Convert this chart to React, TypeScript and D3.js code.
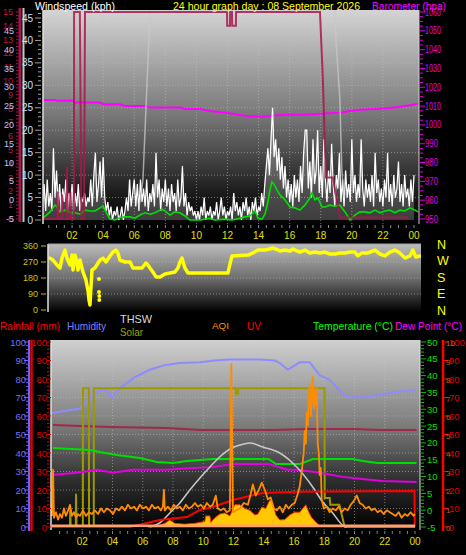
import React from 'react';
import * as d3 from 'd3';

// ---------- labels / ticks ----------
const hourTickValues = [2, 4, 6, 8, 10, 12, 14, 16, 18, 20, 22, 24];
const hourTickLabels = ['02', '04', '06', '08', '10', '12', '14', '16', '18', '20', '22', '00'];
const windTicks = [0, 5, 10, 15, 20, 25, 30, 35, 40, 45];
const crimsonTicks = [0, 1, 2, 3, 4, 5, 6, 7, 8, 9, 10, 11, 12, 13, 14, 15];
const feelTicks = [-5, 0, 5, 10, 15, 20, 25, 30, 35, 40, 45];
const baroTicks = [950, 960, 970, 980, 990, 1000, 1010, 1020, 1030, 1040, 1050, 1060];
const dirTicks = [0, 90, 180, 270, 360];
const compassLabels = ['N', 'W', 'S', 'E', 'N'];
const humTicks = [0, 10, 20, 30, 40, 50, 60, 70, 80, 90, 100];
const tempTicks = [-5, 0, 5, 10, 15, 20, 25, 30, 35, 40, 45, 50];
const uvIndexTicks = [0, 1, 2, 3, 4, 5, 6, 7, 8, 9, 10];

// ---------- top panel data ----------
const gustStartHour = 0.1;
const gustStepHour = 0.1;
const gustValues = [
  4, 8, 2, 9, 3, 6, 2, 16, 5, 11,
  3, 8, 2, 7, 4, 9, 2, 6, 3, 8,
  2, 6, 3, 8, 2, 5, 4, 6, 3, 5,
  4, 9, 3, 10, 15, 4, 8, 13, 5, 14,
  5, 2, 4, 1, 3, 0, 2, 1, 3, 0,
  1, 3, 0, 2, 5, 2, 9, 3, 6, 9,
  3, 8, 2, 9, 4, 7, 3, 9, 2, 6,
  4, 8, 3, 15, 5, 9, 2, 7, 4, 9,
  3, 7, 2, 8, 4, 6, 2, 9, 3, 5,
  12, 3, 6, 1, 4, 2, 3, 1, 2, 0,
  2, 0, 3, 1, 5, 0, 2, 1, 3, 0,
  2, 1, 4, 0, 2, 5, 1, 3, 0, 2,
  1, 3, 0, 6, 2, 4, 1, 3, 0, 4,
  2, 5, 1, 3, 0, 4, 2, 5, 1, 3,
  2, 6, 3, 8, 12, 16, 10, 18, 25, 14,
  18, 11, 16, 9, 14, 7, 12, 5, 9, 4,
  8, 3, 10, 5, 9, 4, 12, 6, 15, 20,
  20, 7, 13, 5, 18, 8, 11, 20, 6, 12,
  5, 18, 9, 4, 11, 6, 17, 8, 3, 10,
  7, 15, 4, 9, 3, 11, 5, 8, 4, 18,
  6, 10, 4, 8, 5, 18, 7, 3, 9, 5,
  8, 4, 10, 3, 15, 6, 9, 4, 7, 3,
  9, 5, 15, 4, 8, 3, 10, 5, 7, 13,
  4, 8, 3, 10, 5, 7, 3, 9, 4, 10,
];

const windAvg: [number, number][] = [
  [0.13, 0.4], [0.58, 1.8], [0.9, 3.3], [1.03, 2.9], [1.22, 1.8], [1.54, 2.2], [1.87, 1.6],
  [2.19, 1.6], [2.51, 1.3], [2.83, 2.2], [3.15, 2], [3.47, 2], [3.8, 2.7], [3.99, 3.1],
  [4.25, 1.3], [4.44, 0.2], [4.76, 0], [5.08, 0.5], [5.4, 0.7], [5.73, 0.7], [6.05, 0.4],
  [6.37, 1.1], [6.69, 1.6], [7.01, 1.3], [7.33, 1.6], [7.66, 2.2], [7.78, 2.4], [7.98, 2],
  [8.3, 1.1], [8.62, 1.8], [8.94, 1.6], [9.26, 0.9], [9.58, 0], [10.23, 0], [10.87, 0.4],
  [11.19, 0], [11.84, 0.2], [12.29, 0], [12.8, 0.4], [13.12, 0.7], [13.44, 0.9], [13.77, 2],
  [13.96, 0.4], [14.22, 0.2], [14.41, 1.3], [14.6, 4], [14.73, 6.7], [14.86, 8.5], [14.99, 8],
  [15.18, 6.7], [15.37, 5.6], [15.7, 4.5], [16.02, 2.9], [16.34, 2.7], [16.66, 2.2], [16.98, 3.3],
  [17.3, 4.9], [17.43, 6], [17.63, 4.5], [17.82, 4.9], [18.08, 2.9], [18.27, 2.9], [18.59, 3.3],
  [18.91, 3.1], [19.23, 3.3], [19.56, 1.8], [19.88, 0], [20.2, 1.1], [20.52, 1.8], [20.84, 1.8],
  [21.16, 1.6], [21.49, 2.2], [21.81, 1.6], [22.13, 2], [22.45, 2.2], [22.77, 1.6], [23.09, 2.2],
  [23.42, 2], [23.74, 2.7], [24.06, 2.2], [24.25, 1.8],
];

const barometer: [number, number][] = [
  [0.13, 1013.3], [0.9, 1013.3], [1.03, 1012.8], [2.06, 1012.8], [2.19, 1011.9], [3.8, 1011.9],
  [3.99, 1011], [5.08, 1011], [5.4, 1010.1], [6.69, 1010.1], [7.01, 1009.2], [8.94, 1009.2],
  [9.26, 1008.5], [10.23, 1008.5], [10.87, 1007.4], [12.16, 1006.2], [13.12, 1004.9],
  [14.22, 1004.3], [14.73, 1004.9], [16.02, 1005.5], [16.66, 1005.3], [17.95, 1005.9],
  [18.59, 1006.2], [19.23, 1006.5], [19.88, 1007.4], [20.52, 1008], [21.49, 1008.5],
  [22.45, 1009], [23.09, 1009.6], [23.74, 1010.4], [24.25, 1011.2],
];

const crimsonSeries: [number, number][] = [
  [0.1, 0], [1.05, 0], [1.08, 2], [1.11, 0], [1.33, 0], [1.36, 1.8], [1.39, 0], [1.65, 0],
  [1.68, 3.8], [1.71, 0], [1.86, 0], [1.89, 2], [1.92, 0], [2.12, 0], [2.13, 15], [2.5, 15],
  [2.6, 0], [2.77, 0], [2.83, 15], [11.97, 15], [11.98, 14], [12.16, 14], [12.17, 15],
  [12.29, 15], [12.3, 14], [12.54, 14], [12.55, 15], [17.95, 15], [18.14, 10], [18.33, 3],
  [18.78, 3], [19.23, 0.1], [23.6, 0.1],
];

const greySeries: [number, number][] = [
  [6.3, 3], [6.45, 6], [6.56, 9], [7.0, 45], [7.1, 52], [18.9, 52], [18.98, 40], [19.23, 27],
  [19.3, 18], [19.36, 11], [19.5, 5],
];

// ---------- wind direction ----------
const windDir: [number, number][] = [
  [0.58, 292], [0.77, 281], [1.03, 253], [1.22, 236], [1.35, 292], [1.54, 337], [1.67, 292],
  [1.87, 253], [2.0, 309], [2.06, 225], [2.19, 309], [2.32, 270], [2.38, 225], [2.51, 281],
  [2.7, 214], [2.89, 169], [3.02, 112], [3.09, 56], [3.15, 28], [3.28, 225], [3.47, 236],
  [3.8, 281], [3.99, 292], [4.18, 270], [4.44, 304], [4.63, 326], [4.82, 337], [4.95, 321],
  [5.08, 281], [5.4, 270], [5.73, 270], [5.92, 236], [6.18, 236], [6.5, 236], [6.75, 264],
  [6.88, 253], [7.01, 236], [7.2, 214], [7.4, 186], [7.66, 186], [7.98, 203], [8.3, 208],
  [8.62, 214], [8.81, 236], [8.94, 270], [9.07, 292], [9.26, 236], [9.46, 208], [12.03, 208],
  [12.16, 259], [12.29, 304], [13.32, 309], [13.64, 321], [13.96, 337], [14.41, 337],
  [14.92, 349], [15.37, 332], [15.7, 337], [16.02, 332], [16.21, 343], [16.66, 326],
  [16.98, 337], [17.3, 321], [17.63, 326], [17.95, 321], [18.27, 326], [18.59, 315],
  [18.91, 315], [19.23, 321], [19.56, 321], [19.88, 326], [20.2, 326], [20.39, 304],
  [20.65, 321], [21.04, 321], [21.49, 337], [21.81, 315], [22.13, 304], [22.45, 326],
  [22.77, 337], [23.09, 321], [23.42, 292], [23.74, 304], [23.93, 337], [24.12, 298], [24.38, 304],
];
const windDirDots: [number, number][] = [[3.73, 174], [3.73, 101], [3.75, 79], [3.75, 56]];

// ---------- bottom panel data ----------
const humidity: [number, number][] = [
  [0, 61.6], [1.85, 64], [2.38, 68.6], [3.17, 74], [3.63, 74], [3.96, 70], [4.49, 75],
  [5.48, 81], [6.47, 85], [7.46, 87.5], [8.45, 88.6], [9.78, 89], [10.77, 90], [11.76, 90.5],
  [13.74, 90.5], [14.73, 90], [15.06, 88.6], [15.59, 85], [16.38, 89], [17.04, 89], [17.7, 82],
  [18.36, 79.5], [19.35, 71], [20.34, 70], [21.33, 71], [22.33, 72.4], [23.32, 73.5], [24, 74],
];
const temperature: [number, number][] = [
  [0.07, 18.5], [2.51, 17.9], [3.17, 17.3], [4.29, 16.4], [5.81, 15.5], [6.93, 14.3],
  [7.99, 14], [8.92, 14.6], [10.63, 15.2], [14.33, 15.2], [14.8, 13.7], [16.38, 13.7],
  [17.24, 15.2], [19.88, 15.2], [20.54, 14.6], [21.53, 14], [24.1, 14],
];
const dewPoint: [number, number][] = [
  [0.07, 10.5], [1.65, 11.1], [2.97, 12], [4.03, 11.1], [5.35, 12], [7.6, 12], [8.92, 12.5],
  [10.63, 12.8], [11.95, 13.7], [14.33, 13.7], [15.59, 12], [16.18, 12], [17.5, 11.3],
  [19.22, 9.9], [20.54, 9.3], [21.86, 8.7], [24.1, 8.4],
];
const maroonSeries: [number, number][] = [
  [0.07, 55.1], [1.85, 54.6], [3.83, 54.1], [7.6, 53.5], [9.78, 52.4], [14.6, 52.4],
  [16.84, 53], [19.88, 53], [21.66, 52.4], [24.1, 52.4],
];
const thswCurve: [number, number][] = [
  [6.47, 0], [7.13, 2.2], [7.79, 7.6], [8.45, 13], [9.11, 20], [9.78, 26.5], [10.44, 32.4],
  [11.1, 38], [11.95, 43], [12.42, 44.3], [13.08, 45.4], [13.94, 43.2], [15.06, 40],
  [16.18, 32.4], [17.24, 21.6], [17.9, 13.5], [18.56, 7.6], [19.22, 1], [19.48, 0],
];
const solarSteps: [number, number][] = [
  [0, 0], [1.19, 0], [1.2, 10], [1.24, 0], [1.57, 0], [1.59, 18], [1.62, 0], [2.04, 0],
  [2.05, 75], [2.44, 75], [2.45, 0], [2.76, 0], [2.77, 75], [12.15, 75], [12.16, 72],
  [12.3, 72], [12.31, 75], [18.02, 75], [18.03, 15.7], [18.36, 15.7], [18.4, 12], [19.0, 12],
  [19.35, 0], [24, 0],
];
const aqi: [number, number][] = [
  [0, 6], [0.07, 31], [0.13, 5], [0.26, 8], [0.4, 4], [0.53, 7], [0.66, 5], [0.79, 10],
  [0.92, 6], [1.06, 9], [1.19, 12], [1.32, 6], [1.45, 8], [1.59, 5], [1.72, 7], [1.85, 6],
  [2.05, 9], [2.25, 6], [2.44, 8], [2.64, 7], [2.84, 9], [3.04, 7], [3.24, 10], [3.43, 8],
  [3.63, 10], [3.83, 9], [4.03, 7], [4.23, 10], [4.43, 9], [4.62, 11], [4.82, 9], [5.02, 12],
  [5.22, 10], [5.42, 11], [5.61, 9], [5.81, 12], [6.01, 10], [6.21, 11], [6.41, 9], [6.61, 12],
  [6.8, 10], [7.0, 11], [7.2, 9], [7.33, 11], [7.4, 20], [7.46, 9], [7.66, 11], [7.86, 9],
  [8.06, 12], [8.26, 10], [8.45, 11], [8.65, 9], [8.85, 12], [9.05, 10], [9.25, 11], [9.45, 13],
  [9.64, 11], [9.84, 12], [10.04, 10], [10.24, 13], [10.44, 11], [10.63, 12], [10.83, 17],
  [10.96, 10], [11.16, 9], [11.36, 10], [11.56, 8], [11.76, 9], [11.86, 88], [11.96, 8],
  [12.15, 9], [12.42, 10], [12.68, 13], [12.95, 12], [13.14, 18], [13.28, 23], [13.47, 17],
  [13.67, 20], [13.87, 24], [14.07, 20], [14.27, 15], [14.46, 16], [14.66, 10], [14.86, 9],
  [15.06, 11], [15.26, 8], [15.46, 12], [15.65, 10], [15.85, 12], [16.05, 13], [16.25, 18],
  [16.38, 22], [16.51, 30], [16.64, 40], [16.71, 52], [16.78, 45], [16.84, 62], [16.91, 55],
  [16.98, 70], [17.04, 77], [17.11, 60], [17.17, 72], [17.24, 81], [17.31, 64], [17.37, 74],
  [17.44, 66], [17.5, 75], [17.57, 45], [17.64, 40], [17.7, 28], [17.77, 32], [17.83, 15],
  [17.97, 10], [18.16, 11], [18.36, 8], [18.56, 10], [18.76, 9], [18.96, 11], [19.15, 8],
  [19.35, 10], [19.55, 9], [19.75, 12], [19.95, 14], [20.15, 17], [20.34, 13], [20.54, 12],
  [20.74, 10], [20.94, 11], [21.14, 9], [21.33, 10], [21.53, 8], [21.73, 9], [21.93, 7],
  [22.13, 9], [22.33, 8], [22.52, 7], [22.72, 6], [22.92, 8], [23.12, 5], [23.32, 7],
  [23.51, 6], [23.71, 8], [23.91, 6], [23.98, 7],
];
const rainfall: [number, number][] = [
  [0, 0], [5.15, 0], [7.13, 3.8], [8.92, 5.4], [9.78, 9.2], [10.63, 10.8], [11.95, 14.6],
  [13.94, 18.4], [16.18, 19], [23.97, 19.5], [23.98, 0],
];
const solarArea: [number, number][] = [
  [6.34, 0], [7.13, 1], [7.46, 2], [7.79, 3.8], [8.12, 2], [8.78, 1.5], [9.45, 2], [9.78, 2.5],
  [10.1, 3], [10.17, 6], [10.44, 6], [10.5, 2.5], [10.77, 5], [11.1, 7], [11.43, 7.6],
  [11.76, 6], [12.09, 12], [12.42, 12], [12.75, 10], [13.08, 9], [13.41, 6.5], [13.61, 7],
  [13.87, 10.8], [14.13, 10], [14.4, 14.6], [14.6, 13], [14.8, 6.5], [15.06, 3.8], [15.39, 4],
  [15.72, 6.5], [16.05, 8], [16.38, 8], [16.58, 10], [16.78, 12], [16.98, 8], [17.17, 5],
  [17.44, 2.7], [17.7, 0.5], [19.02, 0.5], [19.15, 0],
];
const uvIndex: [number, number][] = [[0, 0.7], [24, 0.7]];

const FONT = 'Liberation Sans, Arial, sans-serif';

export default function App() {
  const xTop = d3.scaleLinear().domain([0, 24]).range([41, 414]);
  const xBot = d3.scaleLinear().domain([0, 24]).range([52, 415]);
  const yWind = d3.scaleLinear().domain([0, 45]).range([220, 18]);
  const yCrim = d3.scaleLinear().domain([0, 15]).range([219, 12]);
  const yFeel = d3.scaleLinear().domain([-5, 45]).range([219, 31]);
  const yBaro = d3.scaleLinear().domain([950, 1060]).range([219, 12]);
  const yDir = d3.scaleLinear().domain([0, 360]).range([310, 246]);
  const yHum = d3.scaleLinear().domain([0, 100]).range([527, 342]);
  const yTemp = d3.scaleLinear().domain([-5, 50]).range([527, 342]);

  const mk = (pts: [number, number][], x: any, y: any, curve: any = d3.curveLinear) =>
    d3.line<[number, number]>().x(d => x(d[0])).y(d => y(d[1])).curve(curve)(pts) || '';

  const gustPts: [number, number][] = gustValues.map((v, i) => [gustStartHour + i * gustStepHour, v]);
  const gustArea = d3.area<[number, number]>().x(d => xTop(d[0])).y0(yWind(0)).y1(d => yWind(d[1]))(gustPts) || '';
  const solarAreaPath = d3.area<[number, number]>().x(d => xBot(d[0])).y0(yHum(0)).y1(d => yHum(d[1]))(solarArea) || '';

  const halfHours = d3.range(1, 49).map(i => i / 2);
  const windMinor = d3.range(0, 47);
  const crimMinor = d3.range(0, 15.01, 0.25);
  const baroMinor = d3.range(950, 1061, 2.5);
  const humMinor = d3.range(0, 101, 2);
  const tempMinor = d3.range(-5, 51, 1);

  const top = { x0: 43, x1: 419, y0: 10, y1: 224 };
  const mid = { x0: 48, x1: 421, y0: 244, y1: 312 };
  const bot = { x0: 51, x1: 420, y0: 340, y1: 530 };

  const grid = { stroke: '#c4c4c4', strokeWidth: 1, strokeDasharray: '1,2', opacity: 0.55 };

  return (
    <svg width={466} height={555} style={{ position: 'absolute', left: 0, top: 0, background: '#000' }} fontFamily={FONT}>
      <defs>
        <linearGradient id="gTop" x1="0" y1="0" x2="0" y2="1">
          <stop offset="0" stopColor="#d4d4d4" />
          <stop offset="0.5" stopColor="#767676" />
          <stop offset="0.85" stopColor="#1c1c1c" />
          <stop offset="1" stopColor="#040404" />
        </linearGradient>
        <linearGradient id="gMid" x1="0" y1="0" x2="0" y2="1">
          <stop offset="0" stopColor="#bcbcbc" />
          <stop offset="0.5" stopColor="#6e6e6e" />
          <stop offset="1" stopColor="#000" />
        </linearGradient>
        <linearGradient id="gBot" x1="0" y1="0" x2="0" y2="1">
          <stop offset="0" stopColor="#d0d0d0" />
          <stop offset="0.45" stopColor="#7c7c7c" />
          <stop offset="0.75" stopColor="#2c2c2c" />
          <stop offset="1" stopColor="#000" />
        </linearGradient>
        <clipPath id="cTop"><rect x={top.x0} y={top.y0} width={top.x1 - top.x0} height={top.y1 - top.y0} /></clipPath>
        <clipPath id="cMid"><rect x={mid.x0} y={mid.y0} width={mid.x1 - mid.x0} height={mid.y1 - mid.y0} /></clipPath>
        <clipPath id="cBot"><rect x={bot.x0} y={bot.y0} width={bot.x1 - bot.x0} height={bot.y1 - bot.y0} /></clipPath>
      </defs>
      <rect x={0} y={0} width={466} height={555} fill="#000" />

      {/* ================= TOP PANEL ================= */}
      <rect x={top.x0} y={top.y0} width={top.x1 - top.x0} height={top.y1 - top.y0} fill="url(#gTop)" />
      <g>
        {windTicks.filter(t => t > 0).map(t => (
          <line key={'wg' + t} x1={top.x0} x2={top.x1} y1={yWind(t)} y2={yWind(t)} {...grid} />
        ))}
        {hourTickValues.filter(h => h < 24).map(h => (
          <line key={'vg' + h} x1={xTop(h)} x2={xTop(h)} y1={top.y0} y2={top.y1} {...grid} />
        ))}
      </g>
      <g clipPath="url(#cTop)">
        <path d={mk(barometer, xTop, yBaro)} fill="none" stroke="#ff00ff" strokeWidth={2} />
        <path d={gustArea} fill="#ffffff" opacity={0.22} />
        <path d={mk(gustPts, xTop, yWind)} fill="none" stroke="#ffffff" strokeWidth={1.25} />
        <path d={mk(greySeries, xTop, yWind)} fill="none" stroke="#c8c8c8" strokeWidth={1.5} opacity={0.75} />
        <path d={mk(windAvg, xTop, yWind)} fill="none" stroke="#00e000" strokeWidth={1.6} />
        <path d={mk(crimsonSeries, xTop, yCrim)} fill="none" stroke="#a8184c" strokeWidth={2} opacity={0.85} />
      </g>
      <line x1={top.x0} x2={top.x0} y1={top.y0} y2={top.y1} stroke="#e0e0e0" strokeWidth={1.5} />
      <line x1={top.x1} x2={top.x1} y1={top.y0} y2={top.y1} stroke="#d0d0d0" strokeWidth={1} />
      {halfHours.map(h => (
        <line key={'tt' + h} x1={xTop(h)} x2={xTop(h)} y1={225} y2={228} stroke="#909090" />
      ))}

      {/* left axes top */}
      <line x1={20} x2={20} y1={8} y2={222} stroke="#a01848" strokeWidth={3} />
      {crimMinor.map(v => (
        <line key={'cm' + v} x1={16} x2={18.5} y1={yCrim(v)} y2={yCrim(v)} stroke="#a01848" />
      ))}
      <line x1={23.5} x2={23.5} y1={8} y2={222} stroke="#c8c8c8" strokeWidth={2} />
      {windMinor.map(v => (
        <line key={'wm' + v} x1={v % 5 === 0 ? 35 : 38} x2={41} y1={yWind(v)} y2={yWind(v)} stroke="#a0a0a0" />
      ))}
      {windTicks.map(t => (
        <text key={'wl' + t} x={33} y={yWind(t) + 3.5} fontSize={10} fill="#d0e0ff" textAnchor="end">{t}</text>
      ))}
      {crimsonTicks.map(t => (
        <text key={'cl' + t} x={13} y={yCrim(t) + 3} fontSize={9} fill="#c0184c" textAnchor="end">{t}</text>
      ))}
      {feelTicks.map(t => (
        <text key={'fl' + t} x={14} y={yFeel(t) + 3} fontSize={9} fill="#c0c4ec" textAnchor="end">{t}</text>
      ))}

      {/* right axis barometer */}
      {baroMinor.map(v => (
        <line key={'bm' + v} x1={420} x2={(v - 950) % 10 === 0 ? 425 : 423} y1={yBaro(v)} y2={yBaro(v)} stroke="#e000e0" />
      ))}
      {baroTicks.map(t => (
        <text key={'bl' + t} x={425} y={yBaro(t) + 3.5} fontSize={10} fill="#e000e0" textLength={t >= 1000 ? 16 : 13} lengthAdjust="spacingAndGlyphs">{t}</text>
      ))}

      {/* titles */}
      <text x={35} y={10} fontSize={11.5} fill="#ffffff" textLength={80} lengthAdjust="spacingAndGlyphs">Windspeed (kph)</text>
      <text x={173} y={10} fontSize={11.5} fill="#ffff00" textLength={187} lengthAdjust="spacingAndGlyphs">24 hour graph day : 08 September 2026</text>
      <text x={372} y={10} fontSize={11.5} fill="#ff00ff" textLength={74} lengthAdjust="spacingAndGlyphs">Barometer (hpa)</text>

      {/* hour labels between top and middle */}
      {hourTickValues.map((h, i) => (
        <text key={'hl' + h} x={xTop(h)} y={239} fontSize={10} fill="#e0e000" textAnchor="middle">{hourTickLabels[i]}</text>
      ))}

      {/* ================= MIDDLE PANEL ================= */}
      <rect x={mid.x0} y={mid.y0} width={mid.x1 - mid.x0} height={mid.y1 - mid.y0} fill="url(#gMid)" />
      {[90, 180, 270].map(t => (
        <line key={'dg' + t} x1={mid.x0} x2={mid.x1} y1={yDir(t)} y2={yDir(t)} {...grid} />
      ))}
      <g clipPath="url(#cMid)">
        <path d={mk(windDir, xTop, yDir)} fill="none" stroke="#ffff00" strokeWidth={3.5} strokeLinejoin="round" strokeLinecap="round" />
        {windDirDots.map((d, i) => (
          <circle key={'dd' + i} cx={xTop(d[0])} cy={yDir(d[1])} r={2} fill="#ffff00" />
        ))}
      </g>
      <line x1={mid.x0} x2={mid.x0} y1={mid.y0} y2={mid.y1} stroke="#e0e0e0" strokeWidth={1.5} />
      <line x1={mid.x0} x2={mid.x1} y1={mid.y0} y2={mid.y0} stroke="#a0a0a0" strokeWidth={1} />
      {dirTicks.map(t => (
        <g key={'dt' + t}>
          <line x1={41} x2={46} y1={yDir(t)} y2={yDir(t)} stroke="#c0c000" />
          <text x={38} y={yDir(t) + 3} fontSize={9} fill="#c8c800" textAnchor="end">{t}</text>
        </g>
      ))}
      {compassLabels.map((c, i) => (
        <text key={'cp' + i} x={437} y={249 + i * 16.4} fontSize={12.5} fill="#ffff00">{c}</text>
      ))}

      {/* ================= BOTTOM PANEL ================= */}
      <text x={0} y={330} fontSize={11.5} fill="#ff0000" textLength={60} lengthAdjust="spacingAndGlyphs">Rainfall (mm)</text>
      <text x={67} y={330} fontSize={11.5} fill="#8080ff" textLength={39} lengthAdjust="spacingAndGlyphs">Humidity</text>
      <text x={120} y={323} fontSize={11.5} fill="#d8d8d8" textLength={32} lengthAdjust="spacingAndGlyphs">THSW</text>
      <text x={120} y={336} fontSize={11.5} fill="#a0a000" textLength={23} lengthAdjust="spacingAndGlyphs">Solar</text>
      <text x={212} y={329} fontSize={9.5} fill="#ff9000" textLength={17} lengthAdjust="spacingAndGlyphs">AQI</text>
      <text x={247} y={330} fontSize={11.5} fill="#ff0000" textLength={14} lengthAdjust="spacingAndGlyphs">UV</text>
      <text x={313} y={330} fontSize={11.5} fill="#00ff00" textLength={80} lengthAdjust="spacingAndGlyphs">Temperature (°C)</text>
      <text x={395} y={330} fontSize={11.5} fill="#ff00ff" textLength={67} lengthAdjust="spacingAndGlyphs">Dew Point (°C)</text>

      <rect x={bot.x0} y={bot.y0} width={bot.x1 - bot.x0} height={bot.y1 - bot.y0} fill="url(#gBot)" />
      {humTicks.filter(t => t > 0 && t < 100).map(t => (
        <line key={'hg' + t} x1={bot.x0} x2={bot.x1} y1={yHum(t)} y2={yHum(t)} {...grid} />
      ))}
      {hourTickValues.filter(h => h < 24).map(h => (
        <line key={'bvg' + h} x1={xBot(h)} x2={xBot(h)} y1={bot.y0} y2={bot.y1} {...grid} />
      ))}
      <g clipPath="url(#cBot)">
        <path d={mk(maroonSeries, xBot, yHum)} fill="none" stroke="#a02848" strokeWidth={2} />
        <path d={mk(humidity, xBot, yHum)} fill="none" stroke="#8c8cff" strokeWidth={2} />
        <path d={mk(solarSteps, xBot, yHum)} fill="none" stroke="#9a9a00" strokeWidth={2} />
        <path d={mk(temperature, xBot, yTemp)} fill="none" stroke="#00e000" strokeWidth={2} />
        <path d={mk(dewPoint, xBot, yTemp)} fill="none" stroke="#e000e0" strokeWidth={2} />
        <path d={mk(thswCurve, xBot, yHum, d3.curveMonotoneX)} fill="none" stroke="#c8c8c8" strokeWidth={1.5} />
        <path d={solarAreaPath} fill="#ffc800" stroke="#ff3000" strokeWidth={1} />
        <path d={mk(rainfall, xBot, yHum)} fill="none" stroke="#ff0000" strokeWidth={2} />
        <path d={mk(uvIndex, xBot, yHum)} fill="none" stroke="#ffa070" strokeWidth={2.5} />
        <path d={mk(aqi, xBot, yHum)} fill="none" stroke="#ff8c00" strokeWidth={1.8} strokeLinejoin="round" />
      </g>
      <line x1={bot.x0} x2={bot.x0} y1={bot.y0} y2={bot.y1} stroke="#e0e0e0" strokeWidth={1.5} />
      <line x1={bot.x1} x2={bot.x1} y1={bot.y0} y2={bot.y1} stroke="#e0e0e0" strokeWidth={1} />
      {halfHours.map(h => (
        <line key={'bt' + h} x1={xBot(h)} x2={xBot(h)} y1={531} y2={534} stroke="#808080" />
      ))}
      {hourTickValues.map((h, i) => (
        <text key={'bhl' + h} x={xBot(h)} y={545} fontSize={10} fill="#e0e000" textAnchor="middle">{hourTickLabels[i]}</text>
      ))}

      {/* left axes bottom */}
      <line x1={29} x2={29} y1={340} y2={531} stroke="#6464ff" strokeWidth={2} />
      <line x1={31.5} x2={31.5} y1={340} y2={531} stroke="#e00000" strokeWidth={2.5} />
      {humMinor.map(v => (
        <g key={'hm' + v}>
          <line x1={v % 10 === 0 ? 24 : 26} x2={28} y1={yHum(v)} y2={yHum(v)} stroke="#6464ff" />
          <line x1={47} x2={v % 10 === 0 ? 51 : 49.5} y1={yHum(v)} y2={yHum(v)} stroke="#e00000" />
        </g>
      ))}
      {humTicks.map(t => (
        <g key={'hl' + t}>
          <text x={26} y={yHum(t) + 3.5} fontSize={9.5} fill="#7070ff" textAnchor="end">{t}</text>
          <text x={47} y={yHum(t) + 3.5} fontSize={9.5} fill="#e00000" textAnchor="end">{t}</text>
        </g>
      ))}

      {/* right axes bottom */}
      {tempMinor.map(v => (
        <line key={'tm' + v} x1={421} x2={v % 5 === 0 ? 426 : 424} y1={yTemp(v)} y2={yTemp(v)} stroke="#00c000" />
      ))}
      {tempTicks.map(t => (
        <text key={'tl' + t} x={427} y={yTemp(t) + 3.5} fontSize={9.5} fill="#00e000">{t}</text>
      ))}
      <line x1={443} x2={443} y1={340} y2={531} stroke="#ff0000" strokeWidth={2.5} />
      {humTicks.map(t => (
        <g key={'rr' + t}>
          <line x1={444} x2={448} y1={yHum(t)} y2={yHum(t)} stroke="#ff0000" />
          <text x={449} y={yHum(t) + 3.5} fontSize={9.5} fill="#e00000">{t}</text>
        </g>
      ))}
      {uvIndexTicks.map(t => (
        <text key={'uv' + t} x={446} y={yHum(t * 10) + 4} fontSize={8} fill="#ff7000" opacity={0.8}>{t}</text>
      ))}
    </svg>
  );
}
